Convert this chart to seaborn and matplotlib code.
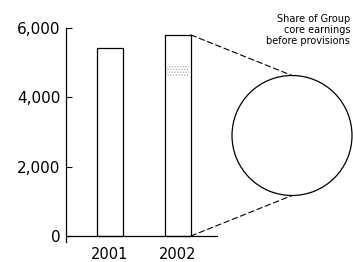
import matplotlib
matplotlib.use("Agg")
import matplotlib.pyplot as plt
from matplotlib.patches import ConnectionPatch
import seaborn as sns
import pandas as pd

years = ["2001", "2002"]
earnings = [5420, 5800]
stipple_bottom = [0, 4600]
stipple_height = [0, 300]
y_ticks = [0, 2000, 4000, 6000]
y_tick_labels = ["0", "2,000", "4,000", "6,000"]
annotation = "Share of Group\ncore earnings\nbefore provisions"
pie_share = [100]

sns.set_theme(style="white")
plt.rcParams["font.family"] = ["DejaVu Sans"]
plt.rcParams["hatch.linewidth"] = 0.7

W, H = 353, 262
fig = plt.figure(figsize=(W / 100, H / 100), dpi=100)

# bar axes: x 66..218 px, y 242..28 px
ax = fig.add_axes([66 / W, (H - 242) / H, (218 - 66) / W, (242 - 28) / H])
df = pd.DataFrame({"year": years, "value": earnings})
sns.barplot(data=df, x="year", y="value", ax=ax, color="white",
            edgecolor="black", linewidth=0.9, width=0.38, saturation=1)
ax.bar(range(len(years)), stipple_height, bottom=stipple_bottom, width=0.33,
       color="white", hatch="......", edgecolor="#b0b0b0", linewidth=0)

ymin = -6000 * 6 / 208
ax.set_ylim(ymin, 6000)
ax.set_xlim(-0.647, 1.588)
ax.set_xlabel("")
ax.set_ylabel("")
ax.set_yticks(y_ticks)
ax.set_yticklabels(y_tick_labels, fontsize=11)
ax.tick_params(axis="y", direction="in", length=4.5, width=0.8, pad=4,
               colors="black", left=True)
ax.tick_params(axis="x", length=0, pad=3.5, labelsize=10.5, colors="black")
for s in ["top", "right", "bottom"]:
    ax.spines[s].set_visible(False)
ax.spines["left"].set_color("black")
ax.spines["left"].set_linewidth(0.9)
ax.axhline(0, color="black", linewidth=0.9)
ax.set_facecolor("none")

# pie axes (circle): x 232..352, y 75..196
pax = fig.add_axes([232 / W, (H - 196) / H, 120 / W, 121 / H])
pax.pie(pie_share, colors=["white"], radius=1,
        wedgeprops=dict(edgecolor="black", linewidth=0.9, clip_on=False))
pax.set_xlim(-1, 1)
pax.set_ylim(-1, 1)
pax.set_aspect("equal")
pax.axis("off")

# dashed connector lines
bx = 1 + 0.19
con1 = ConnectionPatch(xyA=(bx, earnings[1]), coordsA=ax.transData,
                       xyB=(0.0, 1.0), coordsB=pax.transData,
                       linestyle=(0, (5, 3)), color="black", linewidth=0.8)
con2 = ConnectionPatch(xyA=(bx, 0), coordsA=ax.transData,
                       xyB=(0.0, -1.0), coordsB=pax.transData,
                       linestyle=(0, (5, 3)), color="black", linewidth=0.8)
fig.add_artist(con1)
fig.add_artist(con2)

fig.text(350 / W, 1 - 14 / H, annotation, ha="right", va="top",
         fontsize=7, linespacing=1.1, color="black")

fig.savefig("out.png", dpi=100, facecolor="white")
